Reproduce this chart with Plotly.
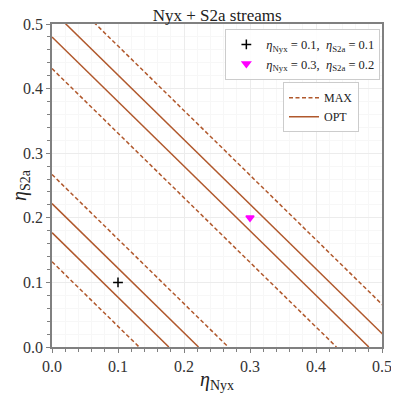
import plotly.graph_objects as go

# line offsets (x + y = c)
opt_levels = [0.177, 0.222, 0.480, 0.521]
max_levels = [0.132, 0.267, 0.431, 0.566]

points_x = [0.1, 0.3]
points_y = [0.1, 0.2]
points_names = [
    "<i>η</i><sub>Nyx</sub> = 0.1,  <i>η</i><sub>S2a</sub> = 0.1",
    "<i>η</i><sub>Nyx</sub> = 0.3,  <i>η</i><sub>S2a</sub> = 0.2",
]
points_symbols = ["cross-thin", "triangle-down"]
points_colors = ["black", "magenta"]

LINE_COLOR = "#b0582c"
FONT = "Liberation Serif"

fig = go.Figure()

for i, c in enumerate(max_levels):
    fig.add_trace(go.Scatter(
        x=[0, c], y=[c, 0], mode="lines",
        line=dict(color=LINE_COLOR, width=1.5, dash="4px,2.5px"),
        name="MAX", legend="legend2", legendgroup="max", showlegend=(i == 0),
    ))

for i, c in enumerate(opt_levels):
    fig.add_trace(go.Scatter(
        x=[0, c], y=[c, 0], mode="lines",
        line=dict(color=LINE_COLOR, width=1.5),
        name="OPT", legend="legend2", legendgroup="opt", showlegend=(i == 0),
    ))

for px, py, nm, sym, col in zip(points_x, points_y, points_names, points_symbols, points_colors):
    fig.add_trace(go.Scatter(
        x=[px], y=[py], mode="markers", name=nm,
        marker=dict(symbol=sym, color=col, size=7,
                    line=dict(color=col, width=1.5)),
    ))

axis_common = dict(
    range=[0, 0.5],
    dtick=0.1,
    tickformat=".1f",
    ticks="outside",
    ticklen=4,
    tickcolor="#808080",
    showline=True,
    linecolor="#808080",
    linewidth=1.5,
    mirror=True,
    showgrid=True,
    gridcolor="#ececec",
    gridwidth=1,
    zeroline=False,
    automargin=False,
    tickfont=dict(family=FONT, size=16, color="#333"),
    minor=dict(dtick=0.02, ticks="outside", ticklen=3, tickcolor="#808080",
               showgrid=True, gridcolor="#f7f7f7"),
)

fig.update_xaxes(
    **axis_common,
    title=dict(text="<i>η</i><sub>Nyx</sub>", font=dict(family=FONT, size=20, color="#222")),
)
fig.update_yaxes(
    **axis_common,
    title=dict(text="<i>η</i><sub>S2a</sub>", font=dict(family=FONT, size=20, color="#222")),
)

# the page body adds an 8px offset, so the figure is 8px smaller than the window
fig.update_layout(
    width=391,
    height=385,
    margin=dict(l=44, r=17, t=16, b=46, autoexpand=False),
    plot_bgcolor="white",
    paper_bgcolor="white",
    font=dict(family=FONT, color="#222"),
    title=dict(text="Nyx + S2a streams", x=0.535, xanchor="center", y=0.996, yanchor="top",
               font=dict(family=FONT, size=17, color="#222"), automargin=False, pad=dict(t=0)),
    legend=dict(
        x=0.995, y=0.985, xanchor="right", yanchor="top",
        bgcolor="rgba(255,255,255,0.9)", bordercolor="#cccccc", borderwidth=1,
        font=dict(family=FONT, size=12.5), tracegroupgap=0, itemwidth=30,
    ),
    legend2=dict(
        x=0.7, y=0.82, xanchor="left", yanchor="top",
        bgcolor="rgba(255,255,255,0.9)", bordercolor="#cccccc", borderwidth=1,
        font=dict(family=FONT, size=12), tracegroupgap=0, itemwidth=30,
    ),
)

fig.write_html("out.html")
